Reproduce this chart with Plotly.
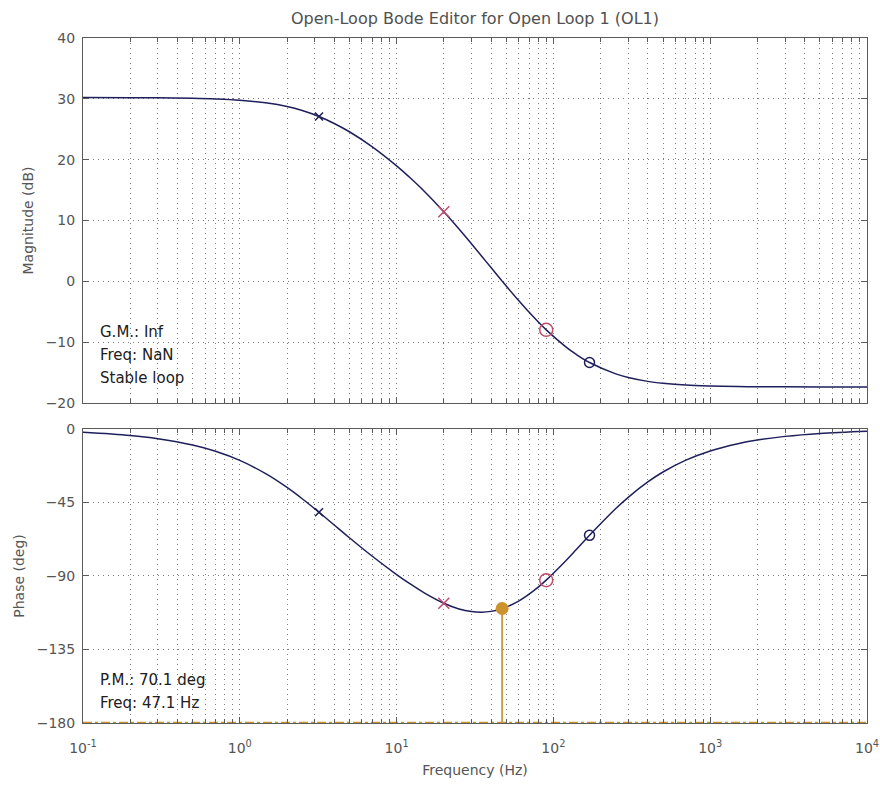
import plotly.graph_objects as go

# ---- data ----
freq = [0.1, 0.2, 0.3, 0.5, 0.7, 1, 1.5, 2, 2.5, 3.2, 4, 5, 7, 10, 12, 15, 20, 25, 30, 35,
        40, 47.1, 60, 75, 90, 120, 140, 170, 250, 300, 400, 500, 700, 1000, 1500, 2000, 3000, 5000, 10000]
mag_db = [30.20, 30.18, 30.16, 30.09, 29.99, 29.78, 29.31, 28.73, 28.07, 27.09, 25.95, 24.59, 22.11,
          18.98, 17.18, 14.81, 11.43, 8.60, 6.18, 4.09, 2.26, 0.03, -3.17, -5.92, -7.98, -10.77,
          -12.02, -13.35, -15.22, -15.81, -16.45, -16.76, -17.06, -17.21, -17.30, -17.33, -17.35,
          -17.36, -17.37]
phase_deg = [-1.98, -3.95, -5.93, -9.82, -13.65, -19.23, -27.94, -35.78, -42.70, -50.97, -58.76,
             -66.56, -77.91, -89.12, -94.40, -100.33, -106.67, -110.16, -111.78, -112.16, -111.66,
             -110.0, -105.39, -99.01, -92.53, -80.66, -73.83, -65.1, -48.72, -41.82, -32.39, -26.32,
             -19.08, -13.46, -9.02, -6.78, -4.52, -2.71, -1.36]

pole_freq = [3.2, 20]
pole_mag = [27.09, 11.43]
pole_phase = [-50.97, -106.67]
zero_freq = [90, 170]
zero_mag = [-7.98, -13.35]
zero_phase = [-92.53, -65.1]

pm_freq = 47.1
pm_phase = -109.9
phase_floor = -180

mag_ticks = [-20, -10, 0, 10, 20, 30, 40]
phase_ticks = [-180, -135, -90, -45, 0]
freq_tickvals = [0.1, 1, 10, 100, 1000, 10000]
freq_ticktext = ["10<sup>-1</sup>", "10<sup>0</sup>", "10<sup>1</sup>", "10<sup>2</sup>",
                 "10<sup>3</sup>", "10<sup>4</sup>"]

title_text = "Open-Loop Bode Editor for Open Loop 1 (OL1)"
gm_lines = ["G.M.: Inf", "Freq: NaN", "Stable loop"]
pm_lines = ["P.M.: 70.1 deg", "Freq: 47.1 Hz"]

# ---- styles ----
FONT = "DejaVu Sans"
CURVE = "#1f1f5c"
RED = "#c04c6c"
ORANGE = "#cc922e"
FRAME = "#5a5a5a"
GRID = "#7c7c7c"
GDASH = "1px,4px"
TICKFONT = dict(family=FONT, size=14, color="#555555")

fig = go.Figure()

fig.add_trace(go.Scatter(x=freq, y=mag_db, mode="lines", line=dict(color=CURVE, width=1.5, shape="spline"),
                         xaxis="x", yaxis="y", showlegend=False, hoverinfo="skip"))
fig.add_trace(go.Scatter(x=freq, y=phase_deg, mode="lines", line=dict(color=CURVE, width=1.5, shape="spline"),
                         xaxis="x2", yaxis="y2", showlegend=False, hoverinfo="skip"))

# -180 reference line
fig.add_trace(go.Scatter(x=[freq[0], freq[-1]], y=[phase_floor, phase_floor], mode="lines",
                         line=dict(color=ORANGE, width=2.5, dash="dashdot"),
                         xaxis="x2", yaxis="y2", showlegend=False, hoverinfo="skip"))
# phase margin stem
fig.add_trace(go.Scatter(x=[pm_freq, pm_freq], y=[phase_floor, pm_phase], mode="lines",
                         line=dict(color="#c4a050", width=2),
                         xaxis="x2", yaxis="y2", showlegend=False, hoverinfo="skip"))

pole_colors = [CURVE, RED]
pole_sizes = [8, 11]
zero_colors = [RED, CURVE]
zero_sizes = [13, 10]

for ax_x, ax_y, pv, zv in [("x", "y", pole_mag, zero_mag), ("x2", "y2", pole_phase, zero_phase)]:
    for i in range(len(pole_freq)):
        fig.add_trace(go.Scatter(x=[pole_freq[i]], y=[pv[i]], mode="markers",
                                 marker=dict(symbol="x-thin-open", size=pole_sizes[i], color=pole_colors[i],
                                             line=dict(color=pole_colors[i], width=1.5)),
                                 xaxis=ax_x, yaxis=ax_y, showlegend=False, hoverinfo="skip"))
    for i in range(len(zero_freq)):
        fig.add_trace(go.Scatter(x=[zero_freq[i]], y=[zv[i]], mode="markers",
                                 marker=dict(symbol="circle-open", size=zero_sizes[i], color=zero_colors[i],
                                             line=dict(color=zero_colors[i], width=1.5)),
                                 xaxis=ax_x, yaxis=ax_y, showlegend=False, hoverinfo="skip"))

fig.add_trace(go.Scatter(x=[pm_freq], y=[pm_phase], mode="markers",
                         marker=dict(symbol="circle", size=13, color=ORANGE),
                         xaxis="x2", yaxis="y2", showlegend=False, hoverinfo="skip"))

common_x = dict(type="log", range=[-1, 4], tickvals=freq_tickvals, ticktext=freq_ticktext,
                showline=True, linecolor=FRAME, linewidth=1, mirror="allticks",
                ticks="inside", ticklen=6, tickcolor=FRAME,
                showgrid=True, gridcolor=GRID, griddash=GDASH, gridwidth=1,
                minor=dict(ticks="inside", ticklen=4, tickcolor=FRAME, showgrid=True,
                           gridcolor=GRID, griddash=GDASH, gridwidth=1, dtick="D1"),
                zeroline=False, tickfont=TICKFONT, automargin=False)
common_y = dict(showline=True, linecolor=FRAME, linewidth=1, mirror="allticks",
                ticks="inside", ticklen=6, tickcolor=FRAME,
                showgrid=True, gridcolor=GRID, griddash=GDASH, gridwidth=1,
                zeroline=False, tickfont=TICKFONT, ticklabelstandoff=4, automargin=False)

fig.update_layout(
    width=880, height=788,
    margin=dict(l=83, r=13, t=38, b=65, autoexpand=False),
    paper_bgcolor="white", plot_bgcolor="white",
    xaxis=dict(domain=[0, 1], anchor="y", showticklabels=False, **common_x),
    xaxis2=dict(domain=[0, 1], anchor="y2", showticklabels=True, ticklabelstandoff=12,
                title=dict(text="Frequency (Hz)", font=dict(family=FONT, size=14, color="#555555"), standoff=10),
                **common_x),
    yaxis=dict(domain=[0.4672, 1], anchor="x", range=[-20, 40], tickvals=mag_ticks,
               title=dict(text="Magnitude (dB)", font=dict(family=FONT, size=14, color="#555555"), standoff=8),
               **common_y),
    yaxis2=dict(domain=[0, 0.4292], anchor="x2", range=[-180, 0], tickvals=phase_ticks,
                title=dict(text="Phase (deg)", font=dict(family=FONT, size=14, color="#555555"), standoff=8),
                **common_y),
    title=dict(text=title_text, font=dict(family=FONT, size=16, color="#505050"),
               x=0.5, xref="paper", xanchor="center", y=1 - 18 / 788, yref="container", yanchor="middle"),
    showlegend=False,
)

PH = 685.0
def ypaper(py):
    return (723 - py) / PH

ann_x = (98 - 83) / 784.0
for i, t in enumerate(gm_lines):
    fig.add_annotation(text=t, xref="paper", yref="paper", x=ann_x, y=ypaper(332 + 23 * i),
                       xanchor="left", yanchor="middle", showarrow=False,
                       font=dict(family=FONT, size=15, color="#202020"))
for i, t in enumerate(pm_lines):
    fig.add_annotation(text=t, xref="paper", yref="paper", x=ann_x, y=ypaper(680 + 23 * i),
                       xanchor="left", yanchor="middle", showarrow=False,
                       font=dict(family=FONT, size=15, color="#202020"))

fig.write_html("out.html")
